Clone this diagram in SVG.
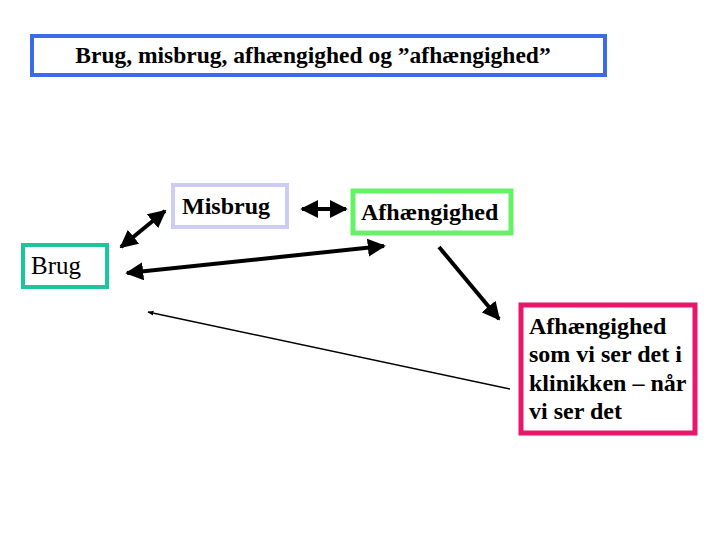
<svg xmlns="http://www.w3.org/2000/svg" width="720" height="540" viewBox="0 0 720 540">
<style>
.box{fill:#fff;}
.t{font-family:"Liberation Serif","Times New Roman",serif;font-size:24px;fill:#000;}
.b{font-weight:bold;}
.thick{stroke:#000;stroke-width:4;fill:none;}
.thin{stroke:#000;stroke-width:1.5;fill:none;}
</style>
<defs>
<marker id="ah" viewBox="0 0 10 10" refX="9" refY="5" markerWidth="4.5" markerHeight="4.5" orient="auto-start-reverse" markerUnits="strokeWidth">
<path d="M0,0 L10,5 L0,10 z" fill="#000"/>
</marker>
<marker id="ahs" viewBox="0 0 10 10" refX="9" refY="5" markerWidth="4" markerHeight="4" orient="auto-start-reverse" markerUnits="strokeWidth">
<path d="M0,1 L10,5 L0,9 z" fill="#000"/>
</marker>
</defs>
<rect width="720" height="540" fill="#fff"/>
<g id="title">
<rect class="box" x="32" y="36" width="573" height="39" stroke="#3a6be8" stroke-width="4"/>
<text class="t b" x="313" y="63" text-anchor="middle" style="font-size:23.5px">Brug, misbrug, afhængighed og ”afhængighed”</text>
</g>
<g id="misbrug">
<rect class="box" x="173" y="185" width="114" height="42" stroke="#ccccf7" stroke-width="4"/>
<text class="t b" x="182" y="214">Misbrug</text>
</g>
<g id="afhaengighed">
<rect class="box" x="353" y="191" width="158" height="42" stroke="#66f266" stroke-width="5"/>
<text class="t b" x="361" y="220">Afhængighed</text>
</g>
<g id="brug">
<rect class="box" x="23" y="245" width="84" height="42" stroke="#1ac79a" stroke-width="4"/>
<text class="t" x="31" y="274" style="font-size:25px">Brug</text>
</g>
<g id="klinik">
<rect class="box" x="521" y="305" width="174" height="128" stroke="#e8176b" stroke-width="5"/>
<text class="t b" x="529" y="334">Afhængighed</text>
<text class="t b" x="529" y="362">som vi ser det i</text>
<text class="t b" x="529" y="391">klinikken – når</text>
<text class="t b" x="529" y="419">vi ser det</text>
</g>
<g id="connectors">
<line class="thick" x1="121" y1="247" x2="165" y2="211" marker-start="url(#ah)" marker-end="url(#ah)"/>
<line class="thick" x1="302" y1="209" x2="346" y2="209" marker-start="url(#ah)" marker-end="url(#ah)"/>
<line class="thick" x1="127" y1="273" x2="384" y2="246" marker-start="url(#ah)" marker-end="url(#ah)"/>
<line class="thick" x1="439" y1="247" x2="499" y2="319" marker-end="url(#ah)"/>
<line class="thin" x1="510" y1="389" x2="148" y2="312" marker-end="url(#ahs)"/>
</g>
</svg>
